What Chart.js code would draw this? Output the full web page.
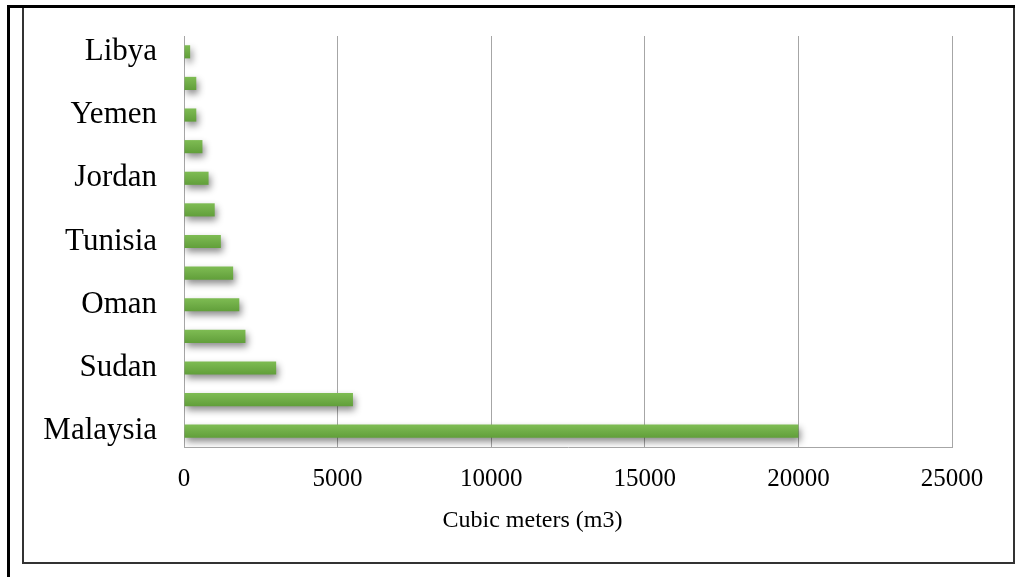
<!DOCTYPE html>
<html>
<head>
<meta charset="utf-8">
<title>Cubic meters per country</title>
<script src="https://cdn.jsdelivr.net/npm/chart.js@4/dist/chart.umd.min.js"></script>
<style>
  html, body { margin: 0; padding: 0; background: #fff; }
  #wrap { position: relative; width: 1015px; height: 577px; overflow: hidden; }
  #chart { position: absolute; left: 0; top: 0; }
  .rule { position: absolute; pointer-events: none; }
  #topRule { left: 7px; top: 5px; width: 1008px; height: 3px; background: #000; }
  #leftRule { left: 7px; top: 5px; width: 3px; height: 572px; background: #000; }
  #box { left: 22px; top: 7px; width: 989px; height: 555px; border: 2px solid #333; border-top: none; }
</style>
</head>
<body>
<div id="wrap">
  <canvas id="chart" width="1015" height="577"></canvas>
  <div class="rule" id="box"></div>
  <div class="rule" id="topRule"></div>
  <div class="rule" id="leftRule"></div>
</div>
<script>
// Countries, top to bottom; only every other name is printed on the axis
const countries = [
  'Libya', 'Saudi Arabia', 'Yemen', 'Algeria', 'Jordan', 'Egypt', 'Tunisia',
  'Morocco', 'Oman', 'Lebanon', 'Sudan', 'Iraq', 'Malaysia'
];
// Cubic meters (m3)
const volumes = [200, 400, 400, 600, 800, 1000, 1200, 1600, 1800, 2000, 3000, 5500, 20000];
// Value axis ticks
const xTicks = [0, 5000, 10000, 15000, 20000, 25000];
const axisTitle = 'Cubic meters (m3)';

const serif = "'Liberation Serif', 'Times New Roman', serif";

// Soft drop shadow under the bars
const barShadow = {
  id: 'barShadow',
  beforeDatasetsDraw(chart) {
    const c = chart.ctx;
    c.save();
    c.shadowColor = 'rgba(0,0,0,0.45)';
    c.shadowBlur = 7;
    c.shadowOffsetX = 2;
    c.shadowOffsetY = 4;
  },
  afterDatasetsDraw(chart) {
    chart.ctx.restore();
  }
};

// Value-axis caption, centred a little left of the plot's middle
const axisCaption = {
  id: 'axisCaption',
  afterDraw(chart) {
    const c = chart.ctx;
    c.save();
    c.fillStyle = '#000';
    c.font = '24px ' + serif;
    c.textAlign = 'center';
    c.textBaseline = 'middle';
    c.fillText(axisTitle, chart.width / 2 + 25, chart.scales.x.bottom - 56);
    c.restore();
  }
};

// Light-to-dark green across each bar's thickness
function barFill(ctx) {
  const chart = ctx.chart;
  const y = chart.scales && chart.scales.y;
  if (!chart.chartArea || !y || ctx.dataIndex === undefined) return '#70ad47';
  const mid = y.getPixelForValue(ctx.dataIndex);
  const g = chart.ctx.createLinearGradient(0, mid - 6, 0, mid + 6);
  g.addColorStop(0, '#7dbb52');
  g.addColorStop(0.5, '#70ad47');
  g.addColorStop(1, '#62a03b');
  return g;
}

new Chart(document.getElementById('chart'), {
  type: 'bar',
  data: {
    labels: countries,
    datasets: [{
      data: volumes,
      backgroundColor: barFill,
      borderWidth: 0,
      categoryPercentage: 0.8,
      barPercentage: 0.52
    }]
  },
  plugins: [barShadow, axisCaption],
  options: {
    indexAxis: 'y',
    responsive: false,
    animation: false,
    devicePixelRatio: 1,
    layout: { padding: { left: 0, right: 63, top: 36, bottom: 0 } },
    plugins: {
      legend: { display: false },
      tooltip: { enabled: false }
    },
    scales: {
      x: {
        min: 0,
        max: 25000,
        afterBuildTicks(scale) {
          scale.ticks = xTicks.map(v => ({ value: v }));
        },
        afterFit(scale) { scale.height = 130; },
        grid: { color: '#a6a6a6', lineWidth: 1, drawTicks: false },
        border: { color: '#a6a6a6', width: 1 },
        ticks: {
          padding: 17,
          color: '#000',
          font: { family: serif, size: 25 },
          callback: v => String(v)
        }
      },
      y: {
        afterFit(scale) {
          scale.width = 184;
          scale.paddingTop = 0;
          scale.paddingBottom = 0;
        },
        grid: { display: false, drawTicks: false },
        border: { color: '#a6a6a6', width: 1 },
        ticks: {
          autoSkip: false,
          padding: 27,
          color: '#000',
          font: { family: serif, size: 31 },
          callback(value, index) {
            return index % 2 === 0 ? this.getLabelForValue(value) : '';
          }
        }
      }
    }
  }
});
</script>
</body>
</html>
